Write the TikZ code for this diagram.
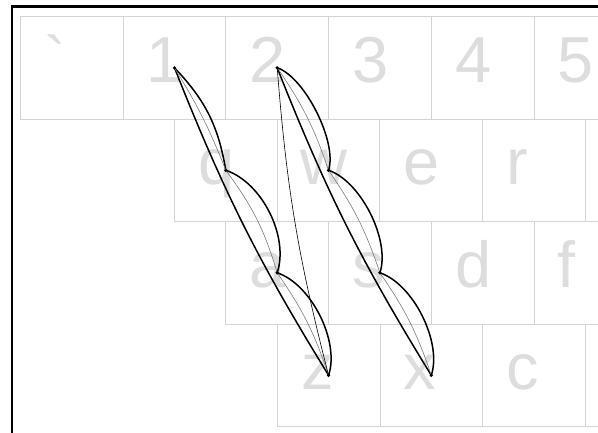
\documentclass[tikz,border=0pt]{standalone}
\usepackage{fontspec}
\setsansfont{Liberation Sans}
\usepackage{tikz}
\definecolor{keyline}{HTML}{D4D4D4}
\definecolor{keytext}{HTML}{DDDDDD}
\definecolor{auxgray}{HTML}{7A7A7A}

\begin{document}
\begin{tikzpicture}[x=1pt, y=-1pt,
    keybox/.style={draw=keyline, line width=0.9pt, minimum width=102.7pt, minimum height=102.7pt, inner sep=0pt, anchor=north west},
    keylbl/.style={text=keytext, font=\sffamily\fontsize{65}{78}\selectfont, inner sep=0pt, anchor=base west},
    swipe/.style={line width=1.5pt},
    swipeaux/.style={auxgray, line width=0.6pt},
    link/.style={line width=0.6pt},
    leaf/.style={out=45, in=135, relative, looseness=#1},
    dot/.style={fill=black}]

  \useasboundingbox (0,0) rectangle (598,432);
  \clip (0,0) rectangle (598,432);

  % Keyboard rows (each shifted right by half a key).
  \foreach \lbl [count=\c from 0] in {\textasciigrave,1,2,3,4,5} {
    \node[keybox] (k0-\c) at (20+102.7*\c,16) {};
    \node[keylbl] (l0-\c) at ([shift={(24,66)}]k0-\c.north west) {\lbl};
  }
  \foreach \lbl [count=\c from 0] in {q,w,e,r} {
    \node[keybox] (k1-\c) at (174+102.7*\c,118.5) {};
    \node[keylbl] (l1-\c) at ([shift={(24,66)}]k1-\c.north west) {\lbl};
  }
  \node[keybox] (k1-4) at (174+102.7*4,118.5) {};
  \foreach \lbl [count=\c from 0] in {a,s,d,f} {
    \node[keybox] (k2-\c) at (225.4+102.7*\c,221) {};
    \node[keylbl] (l2-\c) at ([shift={(24,66)}]k2-\c.north west) {\lbl};
  }
  \foreach \lbl [count=\c from 0] in {z,x,c} {
    \node[keybox] (k3-\c) at (276.8+102.7*\c,323.5) {};
    \node[keylbl] (l3-\c) at ([shift={(24,66)}]k3-\c.north west) {\lbl};
  }
  \node[keybox] (k3-3) at (276.8+102.7*3,323.5) {};

  % Frame.
  \draw[line width=2.5pt] (12,6.5) rectangle (640,460);

  % Swipe 1-q-a-z.
  \draw[swipe] (k0-1.center) to[bend right=5] (k3-0.center);
  \draw[swipe] (k0-1.center) to[bend left=17] (k1-0.center)
    to[leaf=0.85] (k2-0.center) to[leaf=0.8] (k3-0.center);
  \draw[swipeaux] (k0-1.center) to[bend left=5] (k1-0.center)
    to[bend left=10] (k2-0.center) to[bend left=8] (k3-0.center);

  % Swipe 2-w-s-x.
  \draw[swipe] (k0-2.center) to[bend right=5] (k3-1.center);
  \draw[swipe] (k0-2.center) to[leaf=0.65] (k1-1.center)
    to[leaf=0.76] (k2-1.center) to[leaf=0.78] (k3-1.center);
  \draw[swipeaux] (k0-2.center) to[bend left=8] (k1-1.center)
    to[bend left=8] (k2-1.center) to[bend left=8] (k3-1.center);

  % Jump from 2 back down to z.
  \draw[link] (k0-2.center) to[bend right=5] (k3-0.center);

  \foreach \k in {k0-1,k1-0,k2-0,k3-0,k0-2,k1-1,k2-1,k3-1}
    \fill[dot] (\k.center) circle (1.8);
\end{tikzpicture}
\end{document}
